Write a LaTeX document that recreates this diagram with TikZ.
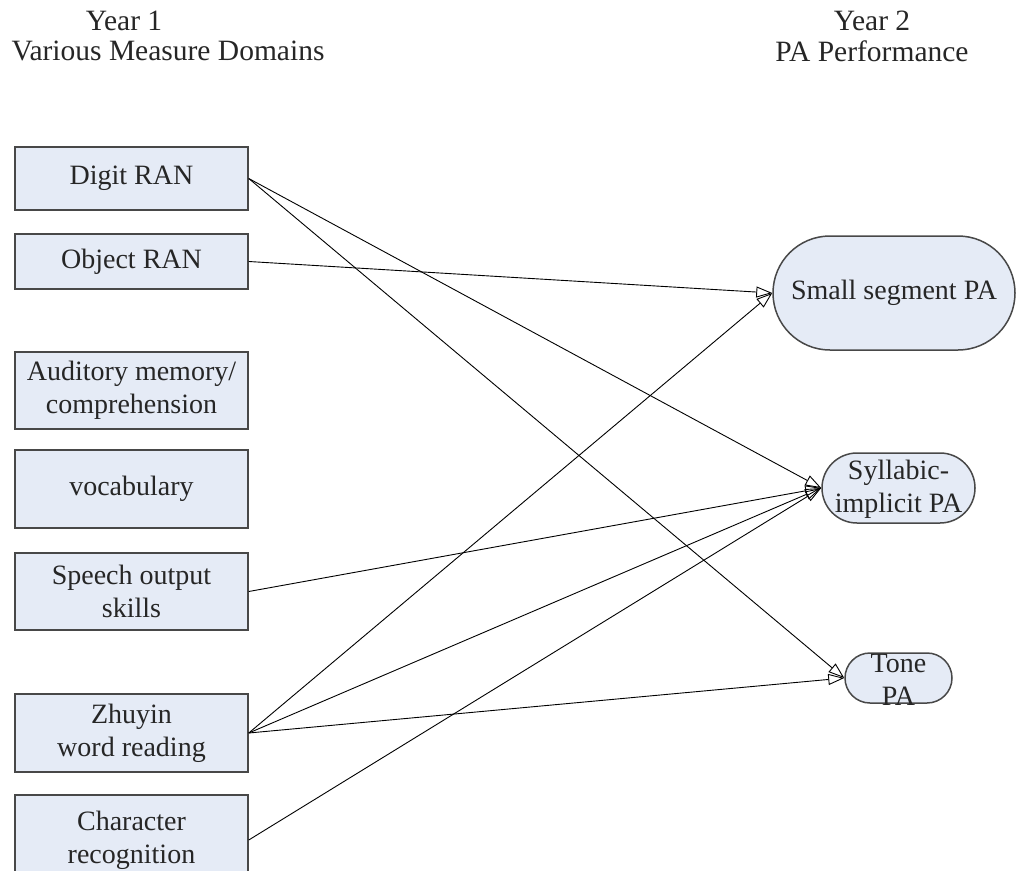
\documentclass[tikz,border=0pt]{standalone}
\usepackage{fontspec}
\setmainfont{Liberation Serif}
\usetikzlibrary{arrows.meta}
\definecolor{boxfill}{RGB}{229,235,246}
\definecolor{boxline}{RGB}{72,72,72}
\begin{document}
\begin{tikzpicture}[x=1pt,y=-1pt,
  every node/.style={font=\fontsize{28}{33}\selectfont, text=black!85},
  heading/.style={align=center, inner sep=0pt, font=\fontsize{29.5}{33}\selectfont},
  measure/.style={draw=boxline, line width=1.5pt, fill=boxfill,
    minimum width=233pt, inner sep=0pt, align=center},
  outcome/.style={draw=boxline, line width=1.5pt, fill=boxfill,
    inner sep=0pt, rounded corners=#1},
  txt/.style={align=center, inner sep=0pt},
  link/.style={-{Triangle[open,length=16pt,width=11pt]}, line width=0.9pt}]
\clip (0,0) rectangle (1017,870);

% column headings
\node[heading] (y1) at (124,21) {Year 1};
\node[heading] (d1) at (168,51) {Various Measure Domains};
\node[heading] (y2) at (872,21) {Year 2};
\node[heading] (d2) at (872,51) {PA Performance};

% year 1 measures
\node[measure, minimum height=63pt] (digit) at (131.5,178.5) {Digit RAN};
\node[measure, minimum height=55pt] (object) at (131.5,261.5) {Object RAN};
\node[measure, minimum height=77pt] (audit) at (131.5,390.5) {Auditory memory/\\comprehension};
\node[measure, minimum height=78pt] (vocab) at (131.5,489) {vocabulary};
\node[measure, minimum height=77pt] (speech) at (131.5,591.5) {Speech output\\skills};
\node[measure, minimum height=78pt] (zhuyin) at (131.5,733) {Zhuyin\\word reading};
\node[measure, minimum height=90pt] (charrec) at (131.5,840) {Character\\recognition};

% year 2 PA outcomes (text set over the shape so it may overflow)
\node[outcome=57pt, minimum width=242pt, minimum height=114pt] (small) at (894,293) {};
\node[txt] (smallt) at (small.center) {Small segment PA};
\node[outcome=35pt, minimum width=153pt, minimum height=70pt] (syll) at (898.5,488) {};
\node[txt] (syllt) at ([yshift=-1pt]syll.center) {Syllabic-\\implicit PA};
\node[outcome=25pt, minimum width=107pt, minimum height=50pt] (tone) at (898.5,678) {};
\node[txt] (tonet) at ([yshift=-2pt]tone.center) {Tone\\PA};

% predictive paths
\draw[link] (digit.east) -- (syll.west);
\draw[link] (digit.east) -- (tone.west);
\draw[link] (object.east) -- (small.west);
\draw[link] (speech.east) -- (syll.west);
\draw[link] (zhuyin.east) -- (small.west);
\draw[link] (zhuyin.east) -- (syll.west);
\draw[link] (zhuyin.east) -- (tone.west);
\draw[link] (charrec.east) -- (syll.west);
\end{tikzpicture}
\end{document}
